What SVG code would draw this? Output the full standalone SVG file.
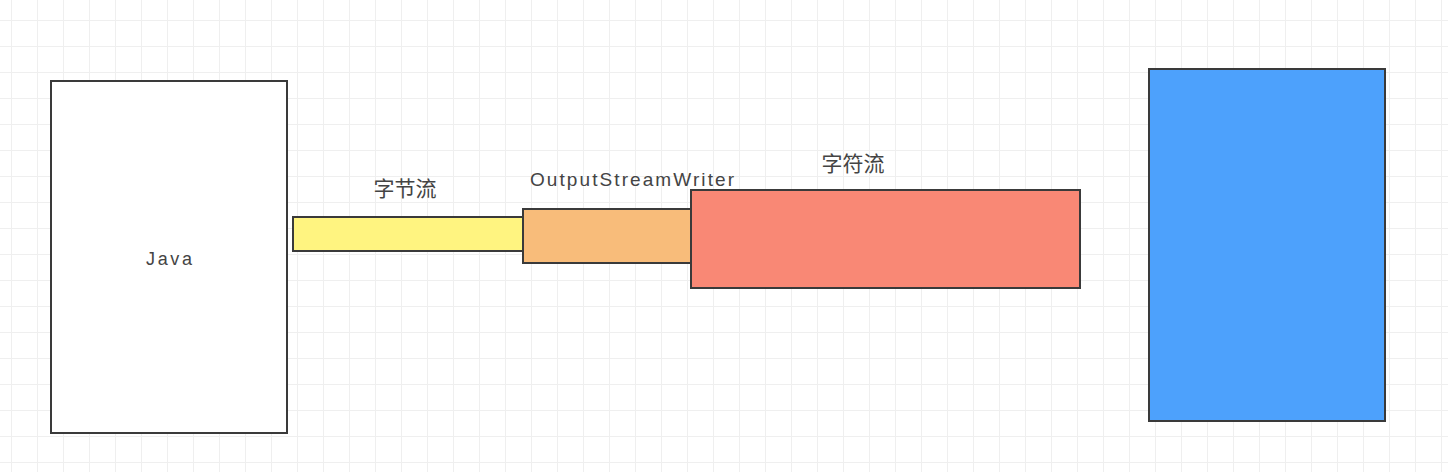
<svg xmlns="http://www.w3.org/2000/svg" width="1448" height="472" viewBox="0 0 1448 472">
<defs>
<pattern id="grid" x="11" y="20" width="26" height="26" patternUnits="userSpaceOnUse">
<path d="M0 0.5H26M0.5 0V26" fill="none" stroke="#efefef" stroke-width="1"/>
</pattern>
</defs>
<style>
.box{stroke:#3a3a3a;stroke-width:2}
.lbl{font-family:"Liberation Sans","Noto Sans CJK SC",sans-serif;fill:#444}
.cjk{font-family:"Noto Sans CJK SC","Liberation Sans",sans-serif;fill:#444}
</style>
<rect width="1448" height="472" fill="#ffffff"/>
<rect width="1448" height="472" fill="url(#grid)"/>
<g id="java">
<rect class="box" x="51" y="81" width="236" height="352" fill="#ffffff"/>
<text class="lbl" x="146" y="265" font-size="18" textLength="46">Java</text>
</g>
<g id="byte-stream">
<rect class="box" x="293" y="217" width="230" height="34" fill="#fff480"/>
<text class="cjk" x="405" y="196" font-size="21" text-anchor="middle">字节流</text>
</g>
<g id="output-stream-writer">
<rect class="box" x="523" y="209" width="169" height="54" fill="#f8bc7a"/>
<text class="lbl" x="530" y="186" font-size="19" textLength="204">OutputStreamWriter</text>
</g>
<g id="char-stream">
<rect class="box" x="691" y="190" width="389" height="98" fill="#f98875"/>
<text class="cjk" x="853" y="171" font-size="21" text-anchor="middle">字符流</text>
</g>
<g id="target">
<rect class="box" x="1149" y="69" width="236" height="352" fill="#4da1fc"/>
</g>
<g id="connectors"></g>
</svg>
